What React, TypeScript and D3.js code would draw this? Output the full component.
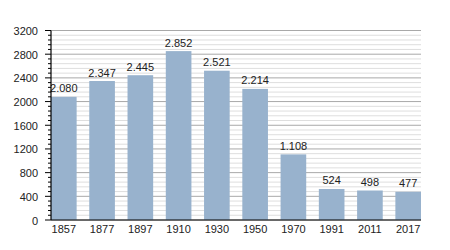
import React from "react";
import * as d3 from "d3";

const years = ["1857", "1877", "1897", "1910", "1930", "1950", "1970", "1991", "2011", "2017"];
const population = [2080, 2347, 2445, 2852, 2521, 2214, 1108, 524, 498, 477];
const yTicks = [0, 400, 800, 1200, 1600, 2000, 2400, 2800, 3200];

const W = 450, H = 250;
const left = 51, right = 421, top = 30.5, bottom = 220;

export default function App() {
  const x = d3.scaleBand<string>().domain(years).range([left, right]).paddingInner(0.33).paddingOuter(0);
  const y = d3.scaleLinear().domain([0, 3200]).range([bottom, top]);
  const minor = d3.range(0, 3200 + 1, 80).filter((v) => v % 400 !== 0);
  const fmt = (v: number) => d3.format(",")(v).replace(/,/g, ".");
  const font = "Liberation Sans, Arial, sans-serif";
  return (
    <svg width={W} height={H} style={{ position: "absolute", left: 0, top: 0, background: "#fff" }} fontFamily={font}>
      {minor.map((v) => (
        <line key={"m" + v} x1={left} x2={right} y1={y(v)} y2={y(v)} stroke="#dedede" strokeWidth={1} />
      ))}
      {yTicks.map((v) => (
        <line key={"g" + v} x1={left} x2={right} y1={y(v)} y2={y(v)} stroke="#a8a8a8" strokeWidth={1} />
      ))}
      {population.map((v, i) => (
        <rect key={years[i]} x={x(years[i])} y={y(v)} width={x.bandwidth()} height={bottom - y(v)} fill="#98b2cd" />
      ))}
      {population.map((v, i) => (
        <text key={"l" + i} x={(x(years[i]) as number) + x.bandwidth() / 2} y={y(v) - 4.5} textAnchor="middle" fontSize={11} fill="#222">
          {fmt(v)}
        </text>
      ))}
      <line x1={left} x2={left} y1={top} y2={bottom} stroke="#000" strokeWidth={1.2} />
      <line x1={left} x2={right} y1={bottom} y2={bottom} stroke="#000" strokeWidth={1.2} />
      {minor.map((v) => (
        <line key={"mt" + v} x1={left - 3} x2={left} y1={y(v)} y2={y(v)} stroke="#000" strokeWidth={1} />
      ))}
      {yTicks.map((v) => (
        <g key={"t" + v}>
          <line x1={left - 6} x2={left} y1={y(v)} y2={y(v)} stroke="#000" strokeWidth={1} />
          <text x={38} y={y(v) + 4.5} textAnchor="end" fontSize={11} fill="#222">{v}</text>
        </g>
      ))}
      {years.map((yr) => (
        <text key={"x" + yr} x={(x(yr) as number) + x.bandwidth() / 2} y={232.5} textAnchor="middle" fontSize={11} fill="#222">
          {yr}
        </text>
      ))}
    </svg>
  );
}
